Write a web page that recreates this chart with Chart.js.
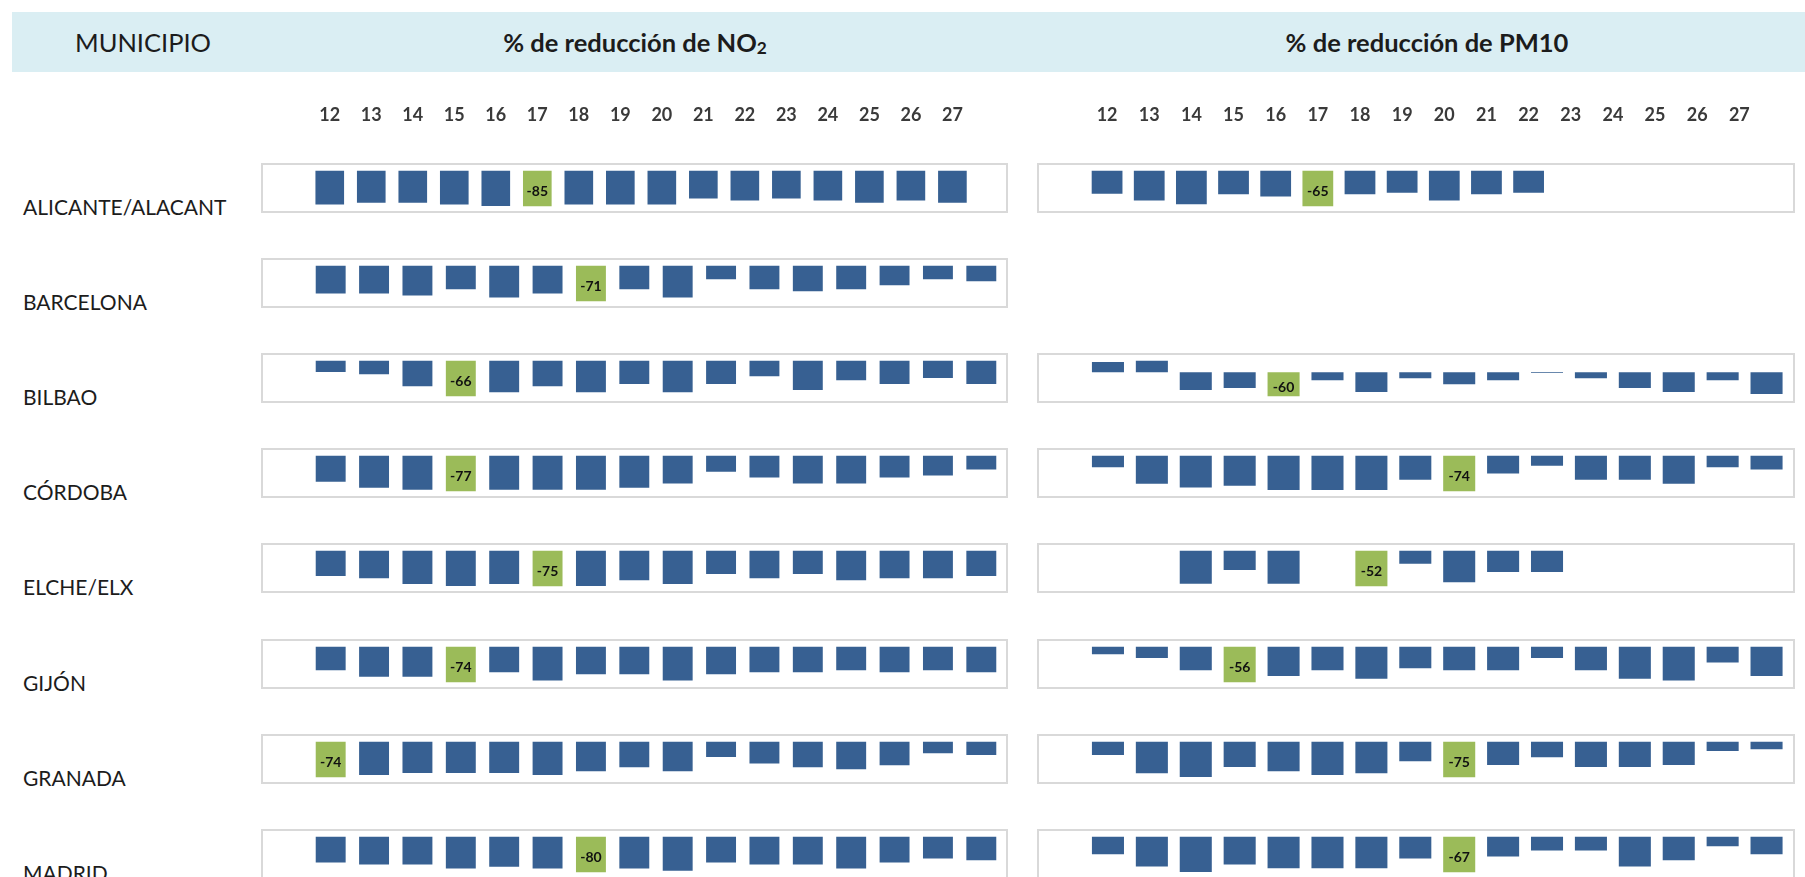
<!DOCTYPE html>
<html>
<head>
<meta charset="utf-8">
<script src="https://cdn.jsdelivr.net/npm/chart.js@4.4.0/dist/chart.umd.min.js"></script>
<style>
  body { margin: 0; background: #fff; font-family: Lato, "Open Sans", sans-serif; overflow: hidden; }
  #page { position: relative; width: 1805px; height: 877px; overflow: hidden; }
  .band { position: absolute; left: 12px; top: 12px; width: 1793px; height: 60px; background: #daeef3; }
  .hdr { position: absolute; top: 12px; height: 60px; line-height: 60px; color: #1c1c1c; font-size: 25.5px; transform: translateX(-50%); white-space: nowrap; }
  .hdr sub { font-size: 0.68em; vertical-align: -0.12em; line-height: 0; }
  .muni { position: absolute; left: 23px; font-size: 21px; color: #1c1c1c; transform: translateY(-50%); white-space: nowrap; }
  .box { position: absolute; border: 2px solid #d9d9d9; box-sizing: border-box; height: 50px; }
  canvas { position: absolute; }
</style>
</head>
<body>
<div id="page">
  <div class="band"></div>
  <div class="hdr" style="left:143px">MUNICIPIO</div>
  <div class="hdr" style="left:635px;font-weight:bold">% de reducción de NO<sub>2</sub></div>
  <div class="hdr" style="left:1427px;font-weight:bold">% de reducción de PM10</div>
</div>
<script>
var days = ['12','13','14','15','16','17','18','19','20','21','22','23','24','25','26','27'];
var municipios = ['ALICANTE/ALACANT','BARCELONA','BILBAO','CÓRDOBA','ELCHE/ELX','GIJÓN','GRANADA','MADRID'];

// % de reducción de NO2, 12-27 de marzo
var alicanteNO2  = [-80,-76,-76,-80,-84,-85,-80,-80,-80,-66,-71,-66,-71,-76,-71,-76];
var barcelonaNO2 = [-55,-55,-59,-47,-63,-55,-71,-47,-63,-27,-47,-51,-47,-39,-27,-31];
var bilbaoNO2    = [-21,-25,-47,-66,-58,-47,-58,-43,-58,-43,-29,-54,-36,-43,-32,-43];
var cordobaNO2   = [-56,-69,-73,-77,-73,-73,-73,-69,-60,-35,-47,-60,-60,-47,-43,-30];
var elcheNO2     = [-53,-58,-70,-74,-70,-75,-74,-62,-70,-49,-58,-49,-62,-58,-58,-53];
var gijonNO2     = [-49,-62,-62,-74,-53,-70,-57,-57,-70,-57,-53,-53,-49,-53,-49,-53];
var granadaNO2   = [-74,-69,-65,-65,-65,-69,-61,-53,-61,-32,-45,-53,-57,-49,-24,-28];
var madridNO2    = [-58,-62,-62,-71,-67,-71,-80,-71,-76,-58,-62,-62,-71,-58,-49,-53];

// % de reducción de PM10
var alicantePM10  = [-42,-54,-61,-43,-47,-65,-43,-40,-54,-43,-40,null,null,null,null,null];
var barcelonaPM10 = null;
var bilbaoPM10    = [25,29,-44,-39,-60,-20,-49,-15,-30,-20,-2,-15,-39,-49,-20,-54];
var cordobaPM10   = [-24,-58,-66,-62,-71,-71,-71,-50,-74,-37,-21,-50,-50,-58,-24,-29];
var elchePM10     = [null,null,-48,-28,-48,null,-52,-19,-46,-31,-31,null,null,null,null,null];
var gijonPM10     = [-12,-18,-37,-56,-46,-37,-50,-34,-37,-37,-18,-37,-50,-53,-25,-46];
var granadaPM10   = [-28,-66,-74,-53,-62,-70,-66,-41,-75,-49,-33,-53,-53,-49,-20,-16];
var madridPM10    = [-33,-56,-66,-52,-59,-59,-59,-41,-67,-37,-26,-26,-56,-44,-18,-33];

var no2Rows  = [alicanteNO2, barcelonaNO2, bilbaoNO2, cordobaNO2, elcheNO2, gijonNO2, granadaNO2, madridNO2];
var pm10Rows = [alicantePM10, barcelonaPM10, bilbaoPM10, cordobaPM10, elchePM10, gijonPM10, granadaPM10, madridPM10];

var BLUE = '#376092';
var GREEN = '#9bbb59';
var page = document.getElementById('page');

// writes the value inside the highlighted (green) bar
var markLabel = {
  id: 'markLabel',
  afterDatasetsDraw: function(chart) {
    var idx = chart.options.plugins.markLabel.index;
    var bar = chart.getDatasetMeta(0).data[idx];
    if (!bar) return;
    var ctx = chart.ctx;
    ctx.save();
    ctx.font = 'bold 14px Lato, sans-serif';
    ctx.fillStyle = '#111';
    ctx.textAlign = 'center';
    ctx.textBaseline = 'middle';
    ctx.fillText(String(chart.data.datasets[0].data[idx]), bar.x, (bar.y + bar.base) / 2 + 3);
    ctx.restore();
  }
};

function panel(values, left, width, boxTop, first, padL, padR, barPct) {
  if (!values) return;
  var box = document.createElement('div');
  box.className = 'box';
  box.style.left = left + 'px';
  box.style.top = boxTop + 'px';
  box.style.width = width + 'px';
  page.appendChild(box);

  // the first row also carries the day labels above the box
  var extra = first ? 58 : 0;
  var cv = document.createElement('canvas');
  cv.width = width;
  cv.height = 50 + extra;
  cv.style.left = left + 'px';
  cv.style.top = (boxTop - extra) + 'px';
  page.appendChild(cv);

  var nums = values.filter(function(v) { return v !== null; });
  var lo = Math.min.apply(null, nums);
  var hi = Math.max(0, Math.max.apply(null, nums));
  var minIdx = values.indexOf(lo);

  var xScale = {
    display: first,
    position: 'top',
    grid: { display: false, drawTicks: false },
    border: { display: false },
    ticks: { padding: 45, maxRotation: 0, autoSkip: false, color: '#3a3a3a', font: { family: 'Lato', size: 18, weight: 'bold' } }
  };
  if (first) xScale.afterFit = function(s) { s.height = 65.5; };

  new Chart(cv, {
    type: 'bar',
    data: {
      labels: days,
      datasets: [{
        data: values,
        backgroundColor: values.map(function(v, i) { return i === minIdx ? GREEN : BLUE; }),
        borderWidth: 0,
        barPercentage: barPct,
        categoryPercentage: 1
      }]
    },
    options: {
      responsive: false,
      animation: false,
      events: [],
      layout: { padding: { left: padL, right: padR, top: first ? 0 : 7.5, bottom: 6.5 } },
      plugins: { legend: { display: false }, tooltip: { enabled: false }, markLabel: { index: minIdx } },
      scales: {
        x: xScale,
        y: { display: false, min: lo, max: hi }
      }
    },
    plugins: [markLabel]
  });
}

function drawAll() {
  for (var i = 0; i < municipios.length; i++) {
    var rowTop = 163 + i * 95.1;
    var lab = document.createElement('div');
    lab.className = 'muni';
    lab.style.top = (rowTop + 43) + 'px';
    lab.textContent = municipios[i];
    page.appendChild(lab);

    panel(no2Rows[i], 261, 747, rowTop, i === 0, 48, 5, 0.69);
    panel(pm10Rows[i], 1037, 758, rowTop, i === 0, 49, 6.5, 0.73);
  }
}
drawAll();
</script>
</body>
</html>
